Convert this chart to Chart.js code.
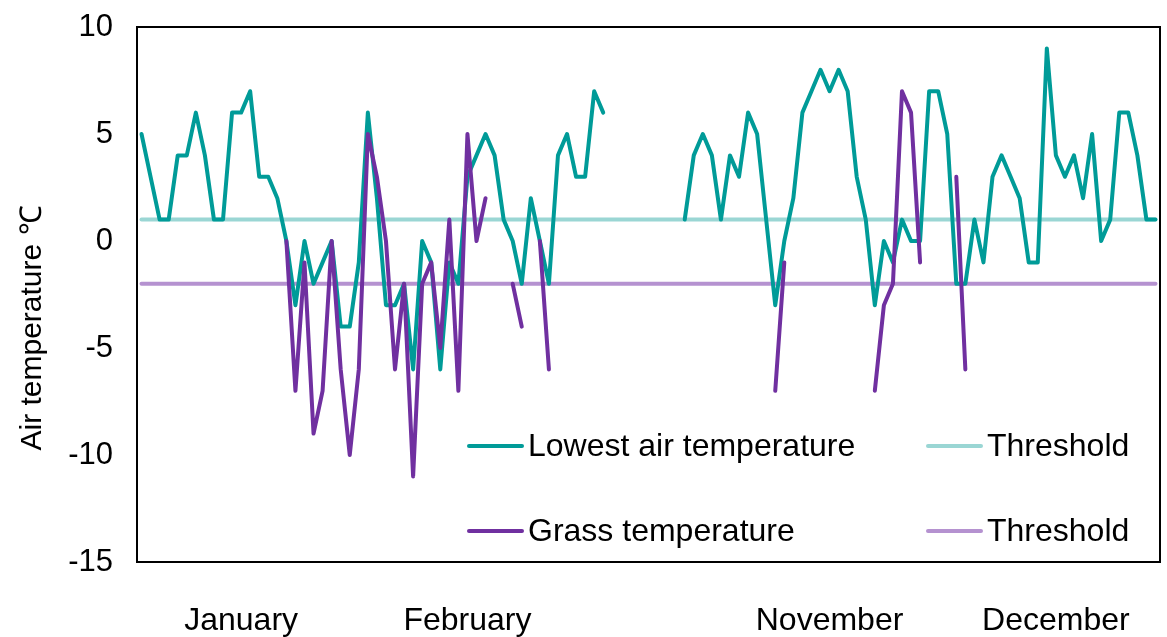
<!DOCTYPE html>
<html>
<head>
<meta charset="utf-8">
<script src="https://cdn.jsdelivr.net/npm/chart.js@4/dist/chart.umd.min.js"></script>
<style>
  html, body { margin: 0; padding: 0; background: #fff; }
  #wrap { width: 1167px; height: 637px; }
</style>
</head>
<body>
<div id="wrap"><canvas id="tempChart"></canvas></div>
<script>
// daily series, null = no record
var lowestAir = [5, 3, 1, 1, 4, 4, 6, 4, 1, 1, 6, 6, 7, 3, 3, 2, 0, -3, 0, -2,
  -1, 0, -4, -4, -1, 6, 2, -3, -3, -2, -6, 0, -1, -6, -1, -2, 3, 4, 5, 4,
  1, 0, -2, 2, 0, -2, 4, 5, 3, 3, 7, 6, null, null, null, null, null, null, null, null,
  1, 4, 5, 4, 1, 4, 3, 6, 5, 1, -3, 0, 2, 6, 7, 8, 7, 8, 7, 3,
  1, -3, 0, -1, 1, 0, 0, 7, 7, 5, -2, -2, 1, -1, 3, 4, 3, 2, -1, -1,
  9, 4, 3, 4, 2, 5, 0, 1, 6, 6, 4, 1, 1];

var grassTemp = [null, null, null, null, null, null, null, null, null, null, null, null, null, null, null, null, 0, -7, -1, -9,
  -7, 0, -6, -10, -6, 5, 3, 0, -6, -2, -11, -2, -1, -5, 1, -7, 5, 0, 2, null,
  null, -2, -4, null, 0, -6, null, null, null, null, null, null, null, null, null, null, null, null, null, null,
  null, null, null, null, null, null, null, null, null, null, -7, -1, null, null, null, null, null, null, null, null,
  null, -7, -3, -2, 7, 6, -1, null, null, null, 3, -6, null, null, null, null, null, null, null, null,
  null, null, null, null, null, null, null, null, null, null, null, null, null];

var airThreshold = 1;
var grassThreshold = -2;

var monthNames = ['January', 'February', 'November', 'December'];
var monthAt = [11, 36, 76, 101];   // day index that carries the month name

var yTicks = [10, 5, 0, -5, -10, -15];

var labels = lowestAir.map(function (v, i) {
  var k = monthAt.indexOf(i);
  return k >= 0 ? monthNames[k] : '';
});

var FONT = '"Liberation Sans", Arial, sans-serif';

// frame, y title and the in-plot legend
var extras = {
  id: 'extras',
  afterDraw: function (chart) {
    var c = chart.ctx, a = chart.chartArea;
    c.save();
    c.strokeStyle = '#000';
    c.lineWidth = 2;
    c.strokeRect(a.left, a.top, a.right - a.left, a.bottom - a.top);

    c.fillStyle = '#000';
    c.font = '30px ' + FONT;
    c.textAlign = 'center';
    c.textBaseline = 'middle';
    c.translate(33, 328);
    c.rotate(-Math.PI / 2);
    c.fillText('Air temperature \u2103', 0, 0);
    c.restore();

    var ds = chart.data.datasets;
    var items = [
      { d: ds[0], x: 469, y: 446 },
      { d: ds[1], x: 928, y: 446 },
      { d: ds[2], x: 469, y: 531 },
      { d: ds[3], x: 928, y: 531 }
    ];
    c.save();
    c.font = '32px ' + FONT;
    c.textAlign = 'left';
    c.textBaseline = 'middle';
    items.forEach(function (it) {
      c.strokeStyle = it.d.borderColor;
      c.lineWidth = 4;
      c.lineCap = 'round';
      c.beginPath();
      c.moveTo(it.x, it.y);
      c.lineTo(it.x + 53, it.y);
      c.stroke();
      c.fillStyle = '#000';
      c.fillText(it.d.label, it.x + 59, it.y + 1);
    });
    c.restore();
  }
};

var ctx = document.getElementById('tempChart').getContext('2d');
var tempChart = new Chart(ctx, {
  type: 'line',
  data: {
    labels: labels,
    datasets: [
      {
        label: 'Lowest air temperature',
        data: lowestAir,
        borderColor: '#009B98',
        borderWidth: 4,
        order: 2
      },
      {
        label: 'Threshold',
        data: labels.map(function () { return airThreshold; }),
        borderColor: '#9AD6D4',
        borderWidth: 4,
        order: 4
      },
      {
        label: 'Grass temperature',
        data: grassTemp,
        borderColor: '#7030A0',
        borderWidth: 4,
        order: 1
      },
      {
        label: 'Threshold',
        data: labels.map(function () { return grassThreshold; }),
        borderColor: '#B592D0',
        borderWidth: 4,
        order: 3
      }
    ]
  },
  options: {
    responsive: true,
    maintainAspectRatio: false,
    animation: false,
    devicePixelRatio: 1,
    spanGaps: false,
    elements: {
      point: { radius: 0, hoverRadius: 0 },
      line: { tension: 0, borderJoinStyle: 'round', borderCapStyle: 'round' }
    },
    layout: { padding: { top: 27, right: 7, left: 0, bottom: 0 } },
    plugins: {
      legend: { display: false },
      tooltip: { enabled: false }
    },
    scales: {
      x: {
        offset: true,
        grid: { display: false, drawTicks: false, offset: true },
        border: { display: false },
        ticks: {
          autoSkip: false,
          maxRotation: 0,
          minRotation: 0,
          padding: 40,
          color: '#000',
          font: { family: FONT, size: 32 }
        },
        afterFit: function (s) {
          s.height = 75;
          s.paddingLeft = 0;
          s.paddingRight = 0;
        }
      },
      y: {
        min: -15,
        max: 10,
        grid: { display: false, drawTicks: false },
        border: { display: false },
        afterBuildTicks: function (s) {
          s.ticks = yTicks.map(function (v) { return { value: v }; });
        },
        ticks: {
          padding: 24,
          color: '#000',
          font: { family: FONT, size: 31 }
        },
        afterFit: function (s) {
          s.width = 137;
          s.paddingTop = 0;
          s.paddingBottom = 0;
        }
      }
    }
  },
  plugins: [extras]
});
</script>
</body>
</html>
